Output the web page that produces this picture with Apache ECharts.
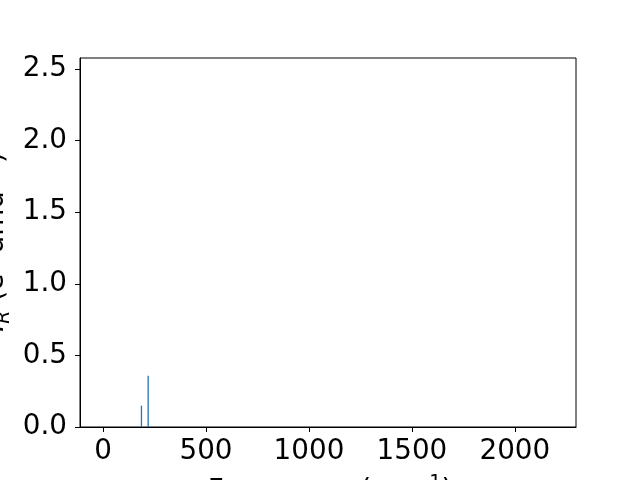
<!DOCTYPE html>
<html><head><meta charset="utf-8">
<script src="https://cdn.jsdelivr.net/npm/echarts@6/dist/echarts.min.js"></script>
<style>html,body{margin:0;padding:0;background:#fff}#c{width:640px;height:480px}</style>
</head><body><div id="c"></div>
<script>
const frequencies = [186.5, 219];
const intensities = [0.149, 0.358];
const xTicks = [0, 500, 1000, 1500, 2000];
const yTicks = [0, 0.5, 1.0, 1.5, 2.0, 2.5];
const xRange = [-112, 2297];
const yRange = [0, 2.577];

const FONT = 'DejaVu Sans';
const FS = 27.8;
const chart = echarts.init(document.getElementById('c'), null, {renderer: 'canvas'});
chart.setOption({
  animation: false,
  backgroundColor: '#fff',
  grid: {left: 80, right: 64, top: 58, bottom: 53, show: true, borderColor: '#000', borderWidth: 1, backgroundColor: 'transparent'},
  xAxis: {
    type: 'value', min: xRange[0], max: xRange[1],
    axisLine: {show: true, onZero: false, lineStyle: {color: '#000', width: 1}},
    axisTick: {show: true, length: 5, lineStyle: {color: '#000'}, customValues: xTicks},
    axisLabel: {color: '#000', fontFamily: FONT, fontSize: FS, margin: 11, customValues: xTicks,
      formatter: v => String(v)},
    splitLine: {show: false}
  },
  yAxis: {
    type: 'value', min: yRange[0], max: yRange[1],
    axisLine: {show: true, onZero: false, lineStyle: {color: '#000', width: 1}},
    axisTick: {show: true, length: 5, lineStyle: {color: '#000'}, customValues: yTicks},
    axisLabel: {color: '#000', fontFamily: FONT, fontSize: FS, margin: 13, customValues: yTicks,
      formatter: v => v.toFixed(1)},
    splitLine: {show: false}
  },
  series: [{
    type: 'bar', barWidth: 1.3,
    itemStyle: {color: '#1f77b4'},
    data: frequencies.map((f, i) => [f, intensities[i]])
  }],
  graphic: [
    {
      type: 'text', x: 330, y: 474,
      style: {
        text: 'Frequency (cm{sup|−1})',
        fontFamily: FONT, fontSize: FS, fill: '#000',
        align: 'center', verticalAlign: 'top',
        lineHeight: 36,
        rich: {sup: {fontSize: 19, fontFamily: FONT, verticalAlign: 'top', lineHeight: 36}}
      }
    },
    {
      type: 'text', x: 14, y: 242, rotation: Math.PI / 2,
      style: {
        text: '{it|I}{sub|R} (e{sup|2} amu{sup|−1})',
        fontFamily: FONT, fontSize: FS, fill: '#000',
        align: 'center', verticalAlign: 'bottom',
        lineHeight: 36,
        rich: {
          it: {fontStyle: 'italic', fontFamily: FONT, fontSize: FS, lineHeight: 36},
          sub: {fontStyle: 'italic', fontFamily: FONT, fontSize: 19, verticalAlign: 'bottom', lineHeight: 36},
          sup: {fontFamily: FONT, fontSize: 19, verticalAlign: 'top', lineHeight: 36}
        }
      }
    }
  ]
});
</script></body></html>
